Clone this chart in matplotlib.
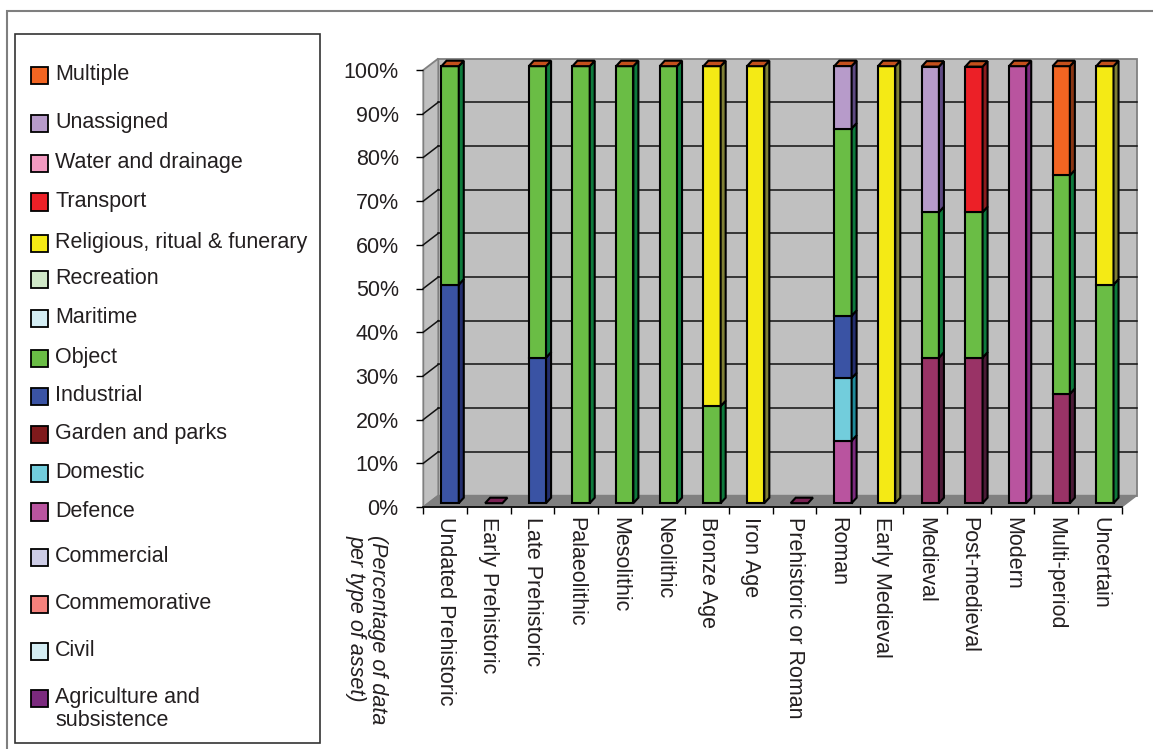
import matplotlib
matplotlib.use("Agg")
import matplotlib.pyplot as plt
from matplotlib.patches import Polygon, Rectangle

plt.rcParams['font.family'] = ['Liberation Sans', 'DejaVu Sans']

# ---------------------------------------------------------------- data
periods = ["Undated Prehistoric", "Early Prehistoric", "Late Prehistoric",
           "Palaeolithic", "Mesolithic", "Neolithic", "Bronze Age", "Iron Age",
           "Prehistoric or Roman", "Roman", "Early Medieval", "Medieval",
           "Post-medieval", "Modern", "Multi-period", "Uncertain"]

# asset types, stacked bottom -> top
asset_types = ["Agriculture and subsistence", "Civil", "Commemorative",
               "Commercial", "Defence", "Domestic", "Garden and parks",
               "Industrial", "Object", "Maritime", "Recreation",
               "Religious, ritual & funerary", "Transport",
               "Water and drainage", "Unassigned", "Multiple"]

# percentage of records per period for each asset type
agriculture  = [0, 0, 0, 0, 0, 0, 0, 0, 0, 0, 0, 33.3, 33.3, 0, 25, 0]
civil        = [0, 0, 0, 0, 0, 0, 0, 0, 0, 0, 0, 0, 0, 0, 0, 0]
commemorative = [0, 0, 0, 0, 0, 0, 0, 0, 0, 0, 0, 0, 0, 0, 0, 0]
commercial   = [0, 0, 0, 0, 0, 0, 0, 0, 0, 0, 0, 0, 0, 0, 0, 0]
defence      = [0, 0, 0, 0, 0, 0, 0, 0, 0, 14.29, 0, 0, 0, 100, 0, 0]
domestic     = [0, 0, 0, 0, 0, 0, 0, 0, 0, 14.29, 0, 0, 0, 0, 0, 0]
garden       = [0, 0, 0, 0, 0, 0, 0, 0, 0, 0, 0, 0, 0, 0, 0, 0]
industrial   = [50, 0, 33.3, 0, 0, 0, 0, 0, 0, 14.29, 0, 0, 0, 0, 0, 0]
object_      = [50, 0, 66.7, 100, 100, 100, 22.2, 0, 0, 42.86, 0, 33.3, 33.3, 0, 50, 50]
maritime     = [0, 0, 0, 0, 0, 0, 0, 0, 0, 0, 0, 0, 0, 0, 0, 0]
recreation   = [0, 0, 0, 0, 0, 0, 0, 0, 0, 0, 0, 0, 0, 0, 0, 0]
religious    = [0, 0, 0, 0, 0, 0, 77.8, 100, 0, 0, 100, 0, 0, 0, 0, 50]
transport    = [0, 0, 0, 0, 0, 0, 0, 0, 0, 0, 0, 0, 33.3, 0, 0, 0]
water        = [0, 0, 0, 0, 0, 0, 0, 0, 0, 0, 0, 0, 0, 0, 0, 0]
unassigned   = [0, 0, 0, 0, 0, 0, 0, 0, 0, 14.29, 0, 33.3, 0, 0, 0, 0]
multiple     = [0, 0, 0, 0, 0, 0, 0, 0, 0, 0, 0, 0, 0, 0, 25, 0]

series = [agriculture, civil, commemorative, commercial, defence, domestic,
          garden, industrial, object_, maritime, recreation, religious,
          transport, water, unassigned, multiple]

y_ticks = [0, 10, 20, 30, 40, 50, 60, 70, 80, 90, 100]
y_tick_labels = [f"{v}%" for v in y_ticks]

# ---------------------------------------------------------------- styling
front_colors = ["#993366", "#D4EEF4", "#F4817C", "#CDCCE6", "#B9549F",
                "#72CDDC", "#7F1A1C", "#3A53A4", "#6ABD45", "#D4EEF4",
                "#D0E8C8", "#F4EA15", "#EC2027", "#F39AC1", "#B79BCA",
                "#F26522"]
side_colors = ["#4B1A36", "#8AA8AE", "#9E4A48", "#8887A0", "#7B2A7E",
               "#1F8A9A", "#4A0E10", "#232E6E", "#0D7A3C", "#8AA8AE",
               "#86A07E", "#7F7F35", "#8C1B1E", "#A35F7E", "#5E4A82",
               "#8A3512"]
top_colors = ["#7A2254", "#B0CDD4", "#C9605C", "#A9A8C4", "#973B86",
              "#4AAFBF", "#5E1214", "#2C3F86", "#3F9A40", "#B0CDD4",
              "#A8C89F", "#C6BC10", "#B8191F", "#C97A9C", "#8F77A6",
              "#C4501C"]
legend_swatch = ["#7B2A7E", "#D4EEF4", "#F4817C", "#CDCCE6", "#B9549F",
                 "#72CDDC", "#7F1A1C", "#3A53A4", "#6ABD45", "#D4EEF4",
                 "#D0E8C8", "#F4EA15", "#EC2027", "#F39AC1", "#B79BCA",
                 "#F26522"]

TEXT = "#231F20"
FS = 15.5
W_PX, H_PX = 1153, 749

fig = plt.figure(figsize=(W_PX / 100, H_PX / 100), dpi=100)
fig.patch.set_facecolor("white")


def fx(px):
    return px / W_PX


def fy(py):
    return 1 - py / H_PX


# outer frame
fig.patches.append(Rectangle((fx(7), fy(760)), fx(1160) - fx(7), fy(11) - fy(760),
                             transform=fig.transFigure, fill=False,
                             edgecolor="#7F7F7F", linewidth=1.5))

# ---------------------------------------------------------------- 3D plot area
ax = fig.add_axes([fx(423.3), fy(507), fx(1121.7) - fx(423.3), fy(70) - fy(507)])
n = len(periods)
ax.set_xlim(-0.5, n - 0.5)
ax.set_ylim(0, 100)
ax.set_facecolor("none")
for s in ax.spines.values():
    s.set_visible(False)

DX = 0.344   # wall depth, category units
DY = 2.63    # wall depth, percent units
BW = 0.396   # bar width
BDX = DX / 3
BDY = 1.25
x0, x1 = -0.5, n - 0.5


def poly(pts, fc, ec="none", lw=1.0, z=1):
    ax.add_patch(Polygon(pts, closed=True, facecolor=fc, edgecolor=ec,
                         linewidth=lw, clip_on=False, zorder=z,
                         joinstyle="miter"))


# walls and floor
poly([(x0 + DX, DY), (x1 + DX, DY), (x1 + DX, 100 + DY), (x0 + DX, 100 + DY)],
     "#C0C0C0", "#808080", 1.3, 1)
poly([(x0, 0), (x0 + DX, DY), (x0 + DX, 100 + DY), (x0, 100)],
     "#C0C0C0", "#808080", 1.3, 1)
for v in y_ticks[1:-1]:
    ax.plot([x0 + DX, x1 + DX], [v + DY, v + DY], color="#111111", lw=1.1,
            clip_on=False, zorder=2)
    ax.plot([x0, x0 + DX], [v, v + DY], color="#111111", lw=1.1,
            clip_on=False, zorder=2)
poly([(x0, 0), (x1, 0), (x1 + DX, DY), (x0 + DX, DY)], "#808080", "#808080", 1.0, 2)
ax.plot([x0, x1], [0, 0], color="black", lw=1.2, clip_on=False, zorder=3)

# stacked columns
for i in range(n):
    xl = i - BW / 2 + DX / 3
    xr = xl + BW
    base = DY / 3
    cum = 0.0
    for k, vals in enumerate(series):
        v = vals[i]
        if v <= 0:
            continue
        b, t = cum + base, cum + v + base
        poly([(xl, b), (xr, b), (xr, t), (xl, t)], front_colors[k], "black", 1.5, 5)
        poly([(xr, b), (xr + BDX, b + BDY), (xr + BDX, t + BDY), (xr, t)],
             side_colors[k], "black", 1.5, 5)
        cum += v
    top = cum + base
    cap = top_colors[-1] if cum > 0 else top_colors[0]
    poly([(xl, top), (xr, top), (xr + BDX, top + BDY), (xl + BDX, top + BDY)],
         cap, "black", 1.5, 6)

# axes ticks and labels
ax.set_yticks(y_ticks)
ax.set_yticklabels(y_tick_labels, fontsize=FS, color=TEXT)
ax.tick_params(axis="y", direction="out", length=5.2, width=1.0,
               color="black", pad=12.5)
ax.set_xticks(range(n))
ax.set_xticklabels(periods, rotation=-90, fontsize=FS, color=TEXT,
                   va="top", ha="center")
ax.tick_params(axis="x", which="major", length=0, pad=7)
ax.set_xticks([i - 0.5 for i in range(n + 1)], minor=True)
ax.tick_params(axis="x", which="minor", direction="out", length=5.2,
               width=1.0, color="black")

fig.text(fx(367), fy(535), "(Percentage of data\nper type of asset)",
         rotation=-90, fontsize=FS, style="italic", color=TEXT,
         ha="center", va="top", multialignment="left", linespacing=1.0)

# ---------------------------------------------------------------- legend
fig.patches.append(Rectangle((fx(15), fy(743)), fx(320) - fx(15), fy(34) - fy(743),
                             transform=fig.transFigure, fill=False,
                             edgecolor="#333333", linewidth=1.2))
legend_rows = [72.5, 120, 160.5, 199, 240.5, 276.5, 315.5, 355, 393.5,
               431.5, 470, 509, 554, 601.5, 648.5, 695]
for row, k in zip(legend_rows, range(len(asset_types) - 1, -1, -1)):
    fig.patches.append(Rectangle((fx(31), fy(row + 11.5)), fx(48) - fx(31),
                                 fy(row - 5.5) - fy(row + 11.5),
                                 transform=fig.transFigure,
                                 facecolor=legend_swatch[k], edgecolor="black",
                                 linewidth=1.3))
    label = asset_types[k]
    if label == "Agriculture and subsistence":
        fig.text(fx(55), fy(row + 7.8), "Agriculture and", fontsize=FS,
                 color=TEXT, va="baseline", ha="left")
        fig.text(fx(55), fy(row + 30.8), "subsistence", fontsize=FS,
                 color=TEXT, va="baseline", ha="left")
    else:
        fig.text(fx(55), fy(row + 7.8), label, fontsize=FS, color=TEXT,
                 va="baseline", ha="left")

fig.savefig("out.png", dpi=100)
